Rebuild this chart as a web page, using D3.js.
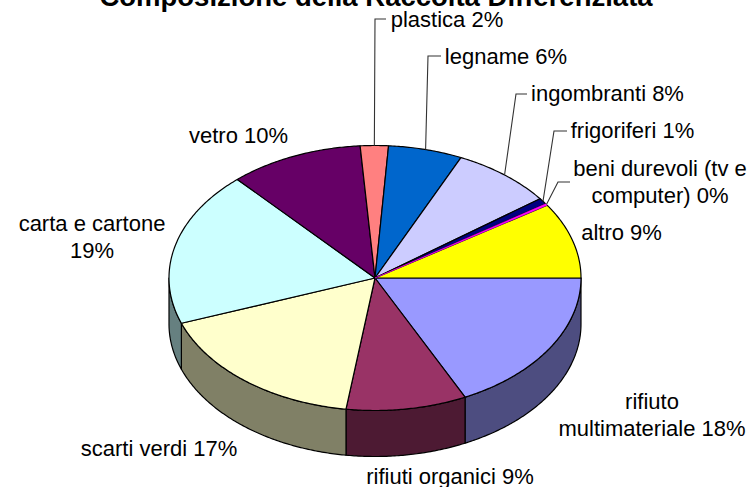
<!DOCTYPE html>
<html><head><meta charset="utf-8">
<script src="https://cdn.jsdelivr.net/npm/d3@7"></script>
<style>html,body{margin:0;padding:0;background:#fff;overflow:hidden}svg{display:block}text{font-family:"Liberation Sans",Arial,sans-serif;fill:#000}</style>
</head><body><svg id="c" width="751" height="487"></svg>
<script>
const categories = ["rifiuto multimateriale","rifiuti organici","scarti verdi","carta e cartone","vetro","plastica","legname","ingombranti","frigoriferi","beni durevoli (tv e computer)","altro"];
const values = [17.8,9.45,17.2,18.9,10.5,2.2,5.8,7.95,0.75,0.2,9.25];
const colors = ["#9999FF","#993366","#FFFFCC","#CCFFFF","#660066","#FF8080","#0066CC","#CCCCFF","#000080","#FF00FF","#FFFF00"];
const titleText = "Composizione della Raccolta Differenziata";
const labelLines = [["rifiuto","multimateriale 18%"],["rifiuti organici 9%"],["scarti verdi 17%"],["carta e cartone","19%"],["vetro 10%"],["plastica 2%"],["legname 6%"],["ingombranti 8%"],["frigoriferi 1%"],["beni durevoli (tv e","computer) 0%"],["altro 9%"]];

const layout = {cx:375, cy:278, rx:206, ry:132.5, depth:46, lineH:26.5, fs:22};
const labelPos = [[652,409],[450,484],[159,456],[92,231],[238.5,143],[447,27],[506,64],[607.5,101],[632.5,138],[660,176],[621.5,240]];
const elbows = [null,null,null,null,null,[[375,19],[386,19]],[[428,56],[441,56]],[[516,94],[527,94]],[[554,131],[567,131]],[[558,182],[570,182]],null];

const svg = d3.select("#c");
const pie = d3.pie().sort(null).value(d=>d).startAngle(0).endAngle(2*Math.PI);
const arcs = pie(values);
const px = a => layout.cx + layout.rx*Math.cos(a);
const py = (a,d=0) => layout.cy + layout.ry*Math.sin(a) + d;
const line = d3.line();
const darken = c => { const r=d3.rgb(c); return d3.rgb(r.r/2,r.g/2,r.b/2).formatHex(); };
const samples = (a0,a1) => { const n=Math.max(2,Math.ceil((a1-a0)/0.01)); return d3.range(n+1).map(i=>a0+(a1-a0)*i/n); };

// sides: only the front half (angles 0..PI) is visible
const sides = arcs.map((d,i)=>({a0:Math.max(d.startAngle,0),a1:Math.min(d.endAngle,Math.PI),i})).filter(d=>d.a1>d.a0);
svg.append("g").selectAll("path").data(sides).join("path")
  .attr("d",d=>{
    const s=samples(d.a0,d.a1);
    const top=s.map(a=>[px(a),py(a)]);
    const bottom=s.slice().reverse().map(a=>[px(a),py(a,layout.depth)]);
    return line(top.concat(bottom))+"Z";
  })
  .attr("fill",d=>darken(colors[d.i])).attr("stroke","#000").attr("stroke-width",1.2).attr("stroke-linejoin","round");

// top face; the thin sliver keeps its own colour on its outline so that it stays visible
svg.append("g").selectAll("path").data(arcs).join("path")
  .attr("d",(d)=>line([[layout.cx,layout.cy]].concat(samples(d.startAngle,d.endAngle).map(a=>[px(a),py(a)])))+"Z")
  .attr("fill",(d,i)=>colors[i])
  .attr("stroke",d=>d.index===9?colors[9]:"#000")
  .attr("stroke-width",d=>d.index===9?0.5:1.2)
  .attr("stroke-linejoin","round")
  .filter(d=>d.index===9).raise();

// leader lines
svg.append("g").selectAll("path").data(arcs.map((d,i)=>({d,e:elbows[i]})).filter(o=>o.e)).join("path")
  .attr("d",o=>{const m=(o.d.startAngle+o.d.endAngle)/2;return line([[px(m),py(m)],...o.e]);})
  .attr("fill","none").attr("stroke","#333").attr("stroke-width",1.1);

// labels
const lg = svg.append("g").attr("font-size",layout.fs).attr("text-anchor","middle");
labelLines.forEach((ls,i)=>ls.forEach((t,j)=>{
  lg.append("text").attr("x",labelPos[i][0]).attr("y",labelPos[i][1]+j*layout.lineH).text(t);
}));

svg.append("text").attr("x",376).attr("y",6).attr("text-anchor","middle")
  .attr("font-size",27.5).attr("font-weight","bold").text(titleText);
</script></body></html>
